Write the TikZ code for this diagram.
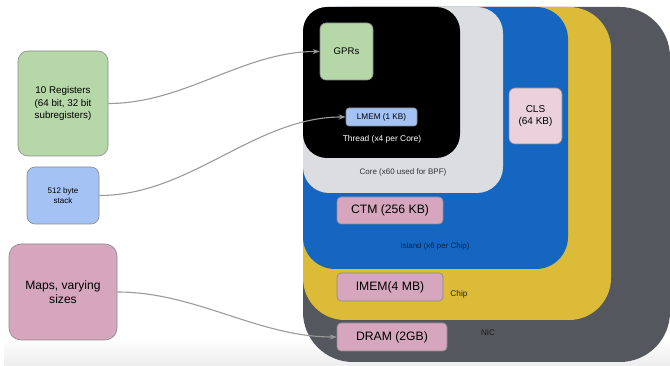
\documentclass[tikz,border=0pt]{standalone}
\usepackage{fontspec}
\setmainfont{Liberation Sans}
\usetikzlibrary{arrows.meta}

\definecolor{nicgray}{HTML}{54585E}
\definecolor{chipyellow}{HTML}{DBBB37}
\definecolor{islandblue}{HTML}{1466C1}
\definecolor{coregray}{HTML}{DCDDE0}
\definecolor{regreen}{HTML}{B6D7A8}
\definecolor{stackblue}{HTML}{A4C2F4}
\definecolor{mempink}{HTML}{D5A6BD}
\definecolor{clspink}{HTML}{EAD1DC}
\definecolor{edgegray}{HTML}{8A8A8A}
\definecolor{linkgray}{HTML}{9A9A9A}
\definecolor{islandtext}{HTML}{0B2446}
\definecolor{floorgray}{HTML}{EDEDED}

\newcommand{\fs}[2]{\fontsize{#1}{#2}\selectfont}

\tikzset{
  membox/.style={draw=edgegray, line width=0.6pt, inner sep=0pt, align=center, text=black},
  link/.style={draw=linkgray, line width=1.1pt, -{Stealth[length=7pt,width=5pt]}},
  tag/.style={inner sep=0pt, align=center}
}

\begin{document}
\begin{tikzpicture}[x=1pt, y=-1pt]
\useasboundingbox (0,0) rectangle (670,366);

% soft floor under the drawing, drawn with an upward y axis
\begin{scope}[y=1pt]
  \shade[top color=white, bottom color=floorgray] (4,-366) rectangle (670,-338);
\end{scope}

% nested hardware levels, all sharing the top-left corner
\fill[nicgray, rounded corners=50pt] (303,7) rectangle (670,362);
\fill[chipyellow, rounded corners=42pt] (303,7) rectangle (611,320);
\fill[islandblue, rounded corners=32pt] (303,7) rectangle (568,269);
\fill[coregray, rounded corners=26pt] (303,7) rectangle (503,193);
\fill[black, rounded corners=24pt] (303,7) rectangle (460,158);

% memories inside the NIC
\node[membox, fill=regreen, rounded corners=6pt, minimum width=53pt, minimum height=57pt, font=\fs{9.6}{11}] (gprs) at (346.5,51.5) {GPRs};
\node[membox, fill=stackblue, rounded corners=3pt, minimum width=71pt, minimum height=18pt, font=\fs{8.2}{10}] (lmem) at (381.5,117) {LMEM (1 KB)};
\node[membox, fill=clspink, rounded corners=6pt, minimum width=53pt, minimum height=56pt, font=\fs{10}{12.3}] (cls) at (535.5,116) {CLS\\(64 KB)};
\node[membox, fill=mempink, rounded corners=4pt, minimum width=106pt, minimum height=27pt, font=\fs{12.2}{14}] (ctm) at (390,210.5) {CTM (256 KB)};
\node[membox, fill=mempink, rounded corners=4pt, minimum width=106pt, minimum height=28pt, font=\fs{12.2}{14}] (imem) at (390,287) {IMEM(4 MB)};
\node[membox, fill=mempink, rounded corners=4pt, minimum width=110pt, minimum height=28pt, font=\fs{12.2}{14}] (dram) at (392,337) {DRAM (2GB)};

% level captions
\node[tag, text=white, font=\fs{8.4}{10}] (threadlbl) at (382,139) {Thread (x4 per Core)};
\node[tag, text=black!80, font=\fs{8}{10}] (corelbl) at (403,172.5) {Core (x60 used for BPF)};
\node[tag, text=islandtext, font=\fs{7.9}{10}] (islandlbl) at (435,246) {Island (x6 per Chip)};
\node[tag, text=black!85, font=\fs{8.3}{10}] (chiplbl) at (459,294) {Chip};
\node[tag, text=black!90, font=\fs{8.1}{10}] (niclbl) at (488,333) {NIC};

% BPF-side resources
\node[membox, fill=regreen, rounded corners=10pt, minimum width=90pt, minimum height=105pt, font=\fs{9.8}{12.5}] (regs) at (63,103.5) {10 Registers\\(64 bit, 32 bit\\subregisters)};
\node[membox, fill=stackblue, rounded corners=8pt, minimum width=72pt, minimum height=57pt, font=\fs{8}{9.5}] (stack) at (63,195.5) {512 byte\\stack};
\node[membox, fill=mempink, rounded corners=12pt, minimum width=108pt, minimum height=96pt, font=\fs{12.1}{14.5}] (maps) at (63,292) {Maps, varying\\sizes};

% mappings
\draw[link] (regs.east) to[out=0, in=180, looseness=0.9] (gprs.west);
\draw[link] (stack.east) to[out=0, in=180, looseness=0.9] (lmem.west);
\draw[link] (maps.east) to[out=0, in=180, looseness=0.9] (dram.west);
\end{tikzpicture}
\end{document}
